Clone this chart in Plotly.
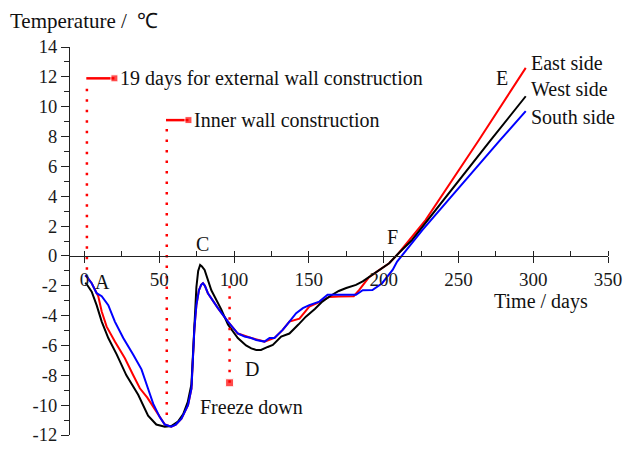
import plotly.graph_objects as go

# ---------------- data ----------------
west_days = [0.5, 1.5, 4.8, 8.1, 11.5, 15.9, 21.5, 28, 35.9, 42.5, 48, 53.7, 58, 62.5, 66, 69,
             71.5, 72.5, 73.7, 74.8, 76, 77.3, 78.5, 80.3, 84.8, 91.5, 95.9, 102.5, 108, 111.5,
             114.8, 118, 122.5, 125.9, 131.5, 137, 143, 148, 154, 159, 164, 170, 175, 181.5, 186,
             192.5, 198, 203.7, 210, 219, 271.7, 295]
west_temp = [-1.8, -1.9, -2.4, -3.3, -4.4, -5.5, -6.6, -8.0, -9.3, -10.7, -11.3, -11.44, -11.4,
             -11.1, -10.6, -9.8, -8.6, -6.6, -4.4, -2.1, -1.0, -0.6, -0.7, -0.94, -2.3, -3.6, -4.6,
             -5.5, -6.0, -6.2, -6.3, -6.3, -6.1, -5.97, -5.4, -5.2, -4.6, -4.07, -3.55, -3.06, -2.7,
             -2.35, -2.15, -1.94, -1.7, -1.27, -0.85, -0.49, 0.18, 1.07, 7.77, 10.7]

south_days = [0.5, 1.5, 4.8, 8.1, 11.5, 15.9, 20.3, 25.9, 32.5, 38.1, 42.5, 45.9, 50.3, 53.7, 58,
              61, 64.8, 69.2, 71.5, 72.5, 73.5, 74.8, 76.5, 78, 79.2, 80.5, 82.5, 89.2, 95.9, 102.5,
              107, 111.5, 114.8, 120.3, 123.7, 127, 132.5, 137, 141.5, 146, 150.3, 157, 162.5, 170,
              181.5, 186, 192.5, 199, 201.5, 206, 209, 217, 226, 278, 295]
south_temp = [-1.3, -1.39, -1.83, -2.5, -2.7, -3.3, -4.4, -5.5, -6.6, -7.6, -8.9, -9.9, -10.8,
              -11.3, -11.44, -11.3, -10.9, -10.0, -8.9, -6.6, -4.8, -3.3, -2.3, -1.94, -1.83, -2.0,
              -2.5, -3.5, -4.4, -5.2, -5.4, -5.5, -5.63, -5.74, -5.5, -5.5, -4.96, -4.4, -3.84,
              -3.5, -3.3, -3.06, -2.6, -2.6, -2.6, -2.3, -2.28, -1.83, -1.5, -0.94, -0.38, 0.62,
              1.74, 7.77, 9.7]

east_days = [0.5, 1.5, 4.8, 8.1, 9.2, 11.5, 14.8, 20.3, 27, 32.5, 37, 42, 46, 50.3, 53.7, 58, 61,
             64.8, 69.2, 71.5, 72.5, 73.5, 74.8, 76.5, 78, 79.2, 80.5, 82.5, 89.2, 95.9, 102.5,
             111.5, 120.3, 127, 132.5, 137, 143.7, 150.3, 157, 163.7, 170, 180, 183.7, 190, 194.8,
             199, 203.7, 210, 219, 228, 263.7, 295]
east_temp = [-1.3, -1.39, -1.83, -2.5, -2.7, -3.73, -4.74, -5.74, -6.86, -7.98, -8.87, -9.5,
             -10.1, -10.8, -11.3, -11.44, -11.3, -10.9, -10.0, -8.9, -6.6, -4.8, -3.3, -2.3, -1.94,
             -1.83, -2.0, -2.5, -3.5, -4.4, -5.2, -5.5, -5.74, -5.5, -4.96, -4.4, -4.2, -3.4, -3.1,
             -2.75, -2.72, -2.7, -2.28, -1.45, -1.1, -0.8, -0.49, 0.18, 1.3, 2.4, 7.77, 12.6]

series_names = ["East side", "West side", "South side"]
series_colors = ["#ff0000", "#000000", "#0000ff"]

x_tick_vals = [0, 50, 100, 150, 200, 250, 300, 350]
x_tick_text = ["0", "50", "100", "150", "200", "250", "300", "350"]
y_tick_vals = [-12, -10, -8, -6, -4, -2, 0, 2, 4, 6, 8, 10, 12, 14]
y_tick_text = ["-12", "-10", "-8", "-6", "-4", "-2", "0", "2", "4", "6", "8", "10", "12", "14"]

# event markers (day, temperature)
ext_wall_h_x = [1.2, 20]
ext_wall_h_y = [11.9, 11.9]
ext_wall_v_x = [1.6, 1.6]
ext_wall_v_y = [11.2, -1.3]
inner_h_x = [54.5, 69.5]
inner_h_y = [9.1, 9.1]
inner_v_x = [55, 55]
inner_v_y = [8.5, -11.2]
freeze_v_x = [97, 97]
freeze_v_y = [-2.0, -8.5]

point_labels = ["A", "B", "C", "D", "E", "F"]
point_x = [12.3, 55, 79, 111.7, 279, 205.7]
point_y = [-1.75, -12.5, 0.8, -7.6, 11.9, 1.3]

# ---------------- figure ----------------
FONT = "Liberation Serif"
RED = "#ff0000"
fig = go.Figure()

for name, col, xs, ys in zip(series_names, series_colors,
                             [east_days, west_days, south_days],
                             [east_temp, west_temp, south_temp]):
    fig.add_trace(go.Scatter(x=xs, y=ys, mode="lines", name=name,
                             line=dict(color=col, width=2), showlegend=False))

dotted = dict(color=RED, width=2.5, dash="2.5px,8px")
for xs, ys in [(ext_wall_v_x, ext_wall_v_y), (inner_v_x, inner_v_y)]:
    fig.add_trace(go.Scatter(x=xs, y=ys, mode="lines", line=dotted, showlegend=False))
fig.add_trace(go.Scatter(x=freeze_v_x, y=freeze_v_y, mode="lines+markers", line=dotted,
                         marker=dict(symbol="square", size=[0, 8], color=RED),
                         showlegend=False))
for xs, ys in [(ext_wall_h_x, ext_wall_h_y), (inner_h_x, inner_h_y)]:
    fig.add_trace(go.Scatter(x=xs, y=ys, mode="lines+markers",
                             line=dict(color=RED, width=2.5),
                             marker=dict(symbol="square", size=[0, 7], color=RED),
                             showlegend=False))

ann = []
def txt(x, y, s, anchor="left", size=20, xref="x", yref="y"):
    ann.append(dict(x=x, y=y, xref=xref, yref=yref, text=s, showarrow=False,
                    xanchor=anchor, yanchor="middle",
                    font=dict(family=FONT, size=size, color="#111111")))

txt(22.3, 11.9, "19 days for external wall construction")
txt(71.7, 9.1, "Inner wall construction")
txt(75.7, -10.1, "Freeze down")
for s, x, y in zip(point_labels, point_x, point_y):
    txt(x, y, s, anchor="center")
for s, y in zip(series_names, [12.9, 11.2, 9.3]):
    txt(297, y, s)
txt(272.3, -3.08, "Time / days")
txt((8 - 70) / 538, (435 - 21) / 388, "Temperature /  ℃", size=21, xref="paper", yref="paper")

fig.update_layout(
    width=623, height=450,
    margin=dict(l=70, r=15, t=47, b=15),
    paper_bgcolor="white", plot_bgcolor="white",
    annotations=ann,
    font=dict(family=FONT, color="#111111"),
    xaxis=dict(range=[-9.7, 350], anchor="free", position=12 / 26, automargin=False,
               showline=True, linecolor="#222222", linewidth=1.3,
               showgrid=False, zeroline=False,
               tickmode="array", tickvals=x_tick_vals, ticktext=x_tick_text,
               ticks="outside", ticklen=6, tickwidth=1.3, tickcolor="#222222",
               minor=dict(dtick=25, tick0=0, ticks="inside", ticklen=5,
                          tickwidth=1.3, tickcolor="#222222"),
               tickfont=dict(family=FONT, size=19, color="#1a1a1a")),
    yaxis=dict(range=[-12, 14], automargin=False,
               showline=True, linecolor="#222222", linewidth=1.3,
               showgrid=False, zeroline=False,
               tickmode="array", tickvals=y_tick_vals, ticktext=y_tick_text,
               ticks="outside", ticklen=8, tickwidth=1.3, tickcolor="#222222",
               minor=dict(dtick=1, tick0=0, ticks="outside", ticklen=5,
                          tickwidth=1.3, tickcolor="#222222"),
               tickfont=dict(family=FONT, size=18.5, color="#1a1a1a")),
)

fig.write_html("out.html")
